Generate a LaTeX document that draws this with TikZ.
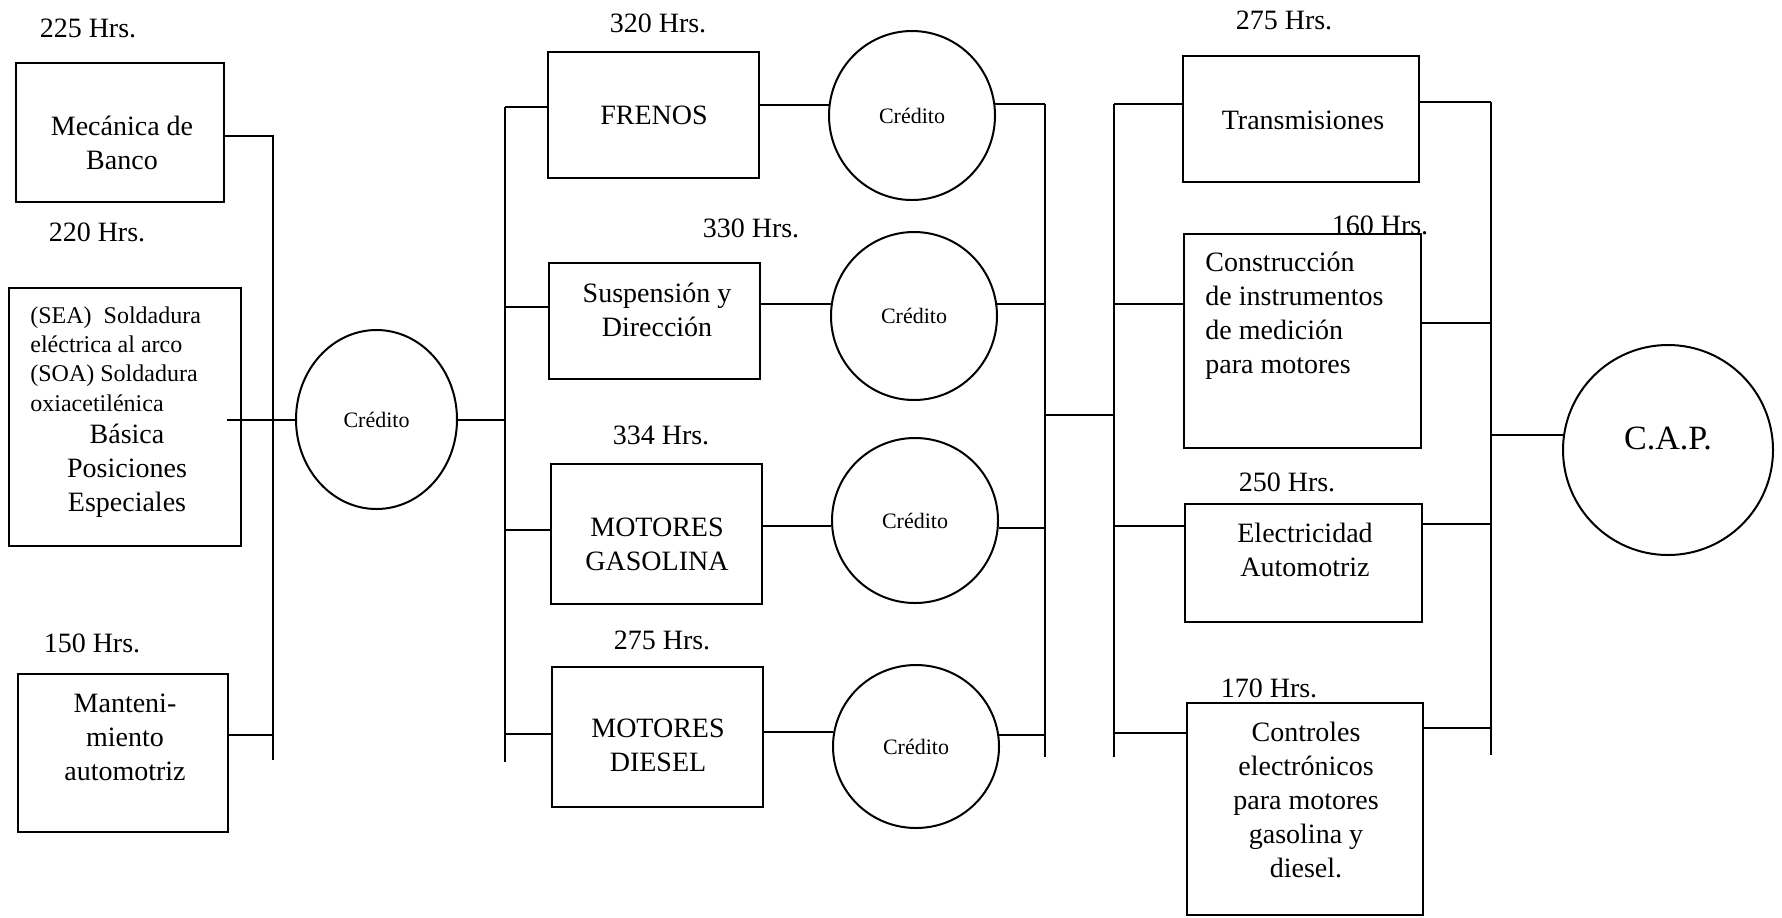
\documentclass[tikz,border=0pt]{standalone}
\usepackage{fontspec}
\setmainfont{Liberation Serif}
\usetikzlibrary{shapes.geometric, positioning}

\tikzset{
  course/.style={draw, line width=1pt, inner sep=0pt},
  credit/.style={draw, ellipse, line width=1pt, inner sep=0pt, font=\fontsize{11}{13}\selectfont},
  hrs/.style={inner sep=0pt, font=\fontsize{14}{17}\selectfont},
  txt/.style={inner sep=0pt, align=center, font=\fontsize{14}{17}\selectfont},
  link/.style={line width=1pt},
}

\begin{document}
\begin{tikzpicture}[x=0.5pt, y=-0.5pt]
        \useasboundingbox (0,0) rectangle (1782,917);

        % First block
        \node[course, minimum width=104pt, minimum height=69.5pt] (mecanica) at (120,132.5) {};
        \node[course, minimum width=116pt, minimum height=129pt] (soldadura) at (125,417) {};
        \node[course, minimum width=105pt, minimum height=79pt] (mantenimiento) at (123,753) {};
        \node[txt] (mecanicaT) at (122,142.5) {Mecánica de\\Banco};
        \node[txt, align=left, anchor=west, font=\fontsize{12}{14.7}\selectfont] (soldaduraA) at (30,359)
          {(SEA)~ Soldadura\\eléctrica al arco\\(SOA) Soldadura\\oxiacetilénica};
        \node[txt] (soldaduraB) at (127,471) {Básica\\Posiciones\\Especiales};
        \node[txt] (mantenimientoT) at (125,737.5) {Manteni-\\miento\\automotriz};
        \node[hrs] (h225) at (88,28) {225 Hrs.};
        \node[hrs] (h220) at (97,232) {220 Hrs.};
        \node[hrs] (h150) at (92,643) {150 Hrs.};
        \node[credit, minimum width=80.5pt, minimum height=89.5pt] (c1) at (376.5,419.5) {Crédito};

        \coordinate (lT) at (273,136);
        \coordinate (lM) at (273,735);
        \coordinate (lB) at (273,760);
        \coordinate (sEnd) at (227,419.5);
        \draw[link] (mecanica.east |- lT) -- (lT) -- (lB);
        \draw[link] (mantenimiento.east |- lM) -- (lM);
        \draw[link] (sEnd) -- (c1.west);

        % Second block
        \node[course, minimum width=105.5pt, minimum height=63pt] (frenos) at (653.5,115) {};
        \node[course, minimum width=105.5pt, minimum height=58pt] (suspension) at (654.5,321) {};
        \node[course, minimum width=105.5pt, minimum height=70pt] (gasolina) at (656.5,534) {};
        \node[course, minimum width=105.5pt, minimum height=70pt] (diesel) at (657.5,737) {};
        \node[txt] (frenosT) at (654,115) {FRENOS};
        \node[txt] (suspensionT) at (657,310) {Suspensión y\\Dirección};
        \node[txt] (gasolinaT) at (657,544) {MOTORES\\GASOLINA};
        \node[txt] (dieselT) at (658,745) {MOTORES\\DIESEL};
        \node[hrs] (h320) at (658,23) {320 Hrs.};
        \node[hrs] (h330) at (751,228) {330 Hrs.};
        \node[hrs] (h334) at (661,435) {334 Hrs.};
        \node[hrs] (h275) at (662,640) {275 Hrs.};
        \node[credit, minimum width=83pt, minimum height=84.5pt] (c2) at (912,115.5) {Crédito};
        \node[credit, minimum width=83pt, minimum height=84pt] (c3) at (914,316) {Crédito};
        \node[credit, minimum width=83pt, minimum height=82.5pt] (c4) at (915,520.5) {Crédito};
        \node[credit, minimum width=83pt, minimum height=81.5pt] (c5) at (916,746.5) {Crédito};

        \coordinate (mT) at (505,107);
        \coordinate (mB) at (505,762);
        \coordinate (mrT) at (1045,104);
        \coordinate (mrB) at (1045,757);
        \draw[link] (mT) -- (mB);
        \draw[link] (mrT) -- (mrB);
        \draw[link] (c1.east) -- (c1.east -| mT);
        \foreach \crs/\y in {frenos/107, suspension/307, gasolina/530, diesel/734} {
          \coordinate (m) at (505,\y);
          \draw[link] (m) -- (\crs.west |- m);
        }
        \foreach \crs/\cr/\a/\b in {frenos/c2/173.5/8, suspension/c3/172.5/8, gasolina/c4/184.5/355.5, diesel/c5/170.5/8} {
          \draw[link] (\crs.east |- \cr.\a) -- (\cr.\a);
          \draw[link] (\cr.\b) -- (\cr.\b -| mrT);
        }

        % Third block
        \node[course, minimum width=118pt, minimum height=63pt] (transmisiones) at (1301,119) {};
        \node[course, minimum width=118.5pt, minimum height=107pt] (construccion) at (1302.5,340.5) {};
        \node[course, minimum width=118.5pt, minimum height=59pt] (electricidad) at (1303.5,563) {};
        \node[course, minimum width=118pt, minimum height=106pt] (controles) at (1305,809) {};
        \node[txt] (transmisionesT) at (1303,120) {Transmisiones};
        \node[txt, align=left, anchor=west] (construccionT) at (1205,316)
          {Construcción\\de instrumentos\\de medición\\para motores};
        \node[txt] (electricidadT) at (1305,550) {Electricidad\\Automotriz};
        \node[txt] (controlesT) at (1306,800) {Controles\\electrónicos\\para motores\\gasolina y\\diesel.};
        \node[hrs] (h275b) at (1284,20) {275 Hrs.};
        \node[hrs] (h160) at (1380,225) {160 Hrs.};
        \node[hrs] (h250) at (1287,482) {250 Hrs.};
        \node[hrs] (h170) at (1269,688) {170 Hrs.};

        \coordinate (mid) at (1045,415);
        \coordinate (rlT) at (1114,104);
        \coordinate (rlB) at (1114,757);
        \coordinate (rrT) at (1491,102);
        \coordinate (rrB) at (1491,755);
        \draw[link] (rlT) -- (rlB);
        \draw[link] (rrT) -- (rrB);
        \draw[link] (mid) -- (mid -| rlT);
        \foreach \crs/\y/\z in {transmisiones/104/102, construccion/304/323, electricidad/526/524, controles/733/728} {
          \coordinate (p) at (1114,\y);
          \coordinate (q) at (1491,\z);
          \draw[link] (p) -- (p -| \crs.west);
          \draw[link] (q -| \crs.east) -- (q);
        }

        % Final
        \node[draw, circle, line width=1pt, inner sep=0pt, minimum size=105pt] (cap) at (1668,450) {};
        \node[txt, font=\fontsize{17}{20}\selectfont] (capT) at (1668,438) {C.A.P.};
        \draw[link] (cap.172 -| rrT) -- (cap.172);
\end{tikzpicture}
\end{document}
